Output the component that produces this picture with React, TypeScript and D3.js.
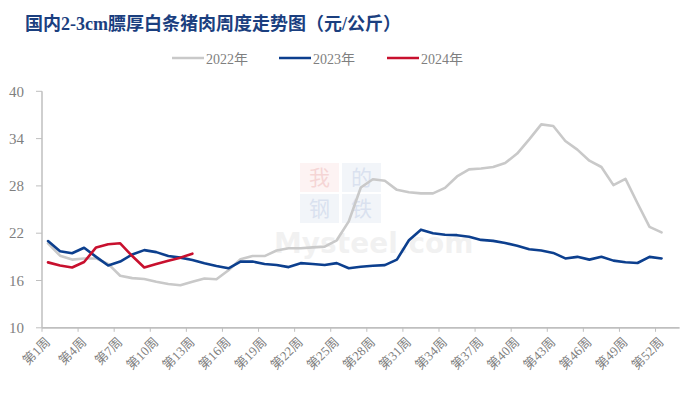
import React from 'react';
import * as d3 from 'd3';

const weeks = [
  '第1周','第2周','第3周','第4周','第5周','第6周','第7周','第8周','第9周','第10周',
  '第11周','第12周','第13周','第14周','第15周','第16周','第17周','第18周','第19周','第20周',
  '第21周','第22周','第23周','第24周','第25周','第26周','第27周','第28周','第29周','第30周',
  '第31周','第32周','第33周','第34周','第35周','第36周','第37周','第38周','第39周','第40周',
  '第41周','第42周','第43周','第44周','第45周','第46周','第47周','第48周','第49周','第50周',
  '第51周','第52周','第53周',
];

const series2022 = [
  20.7, 19.15, 18.65, 18.8, 18.8, 18.1, 16.6, 16.3, 16.2, 15.85,
  15.55, 15.4, 15.85, 16.25, 16.15, 17.3, 18.7, 19.1, 19.1, 19.8,
  20.1, 20.1, 20.2, 20.3, 21.1, 23.5, 27.8, 28.85, 28.65, 27.5,
  27.2, 27.05, 27.05, 27.75, 29.2, 30.1, 30.2, 30.4, 30.9, 32.1,
  33.9, 35.8, 35.6, 33.7, 32.6, 31.2, 30.4, 28.1, 28.9, 25.8,
  22.8, 22.1,
];

const series2023 = [
  21.0, 19.7, 19.45, 20.15, 19.0, 17.9, 18.4, 19.3, 19.85, 19.6,
  19.1, 18.9, 18.6, 18.2, 17.85, 17.55, 18.4, 18.4, 18.1, 17.97,
  17.7, 18.2, 18.1, 17.97, 18.2, 17.55, 17.75, 17.87, 17.95, 18.65,
  21.1, 22.45, 22.0, 21.8, 21.75, 21.55, 21.15, 21.03, 20.75, 20.4,
  19.96, 19.8, 19.5, 18.8, 19.0, 18.65, 19.0, 18.52, 18.32, 18.22,
  19.0, 18.8,
];

const series2024 = [18.3, 17.9, 17.65, 18.35, 20.2, 20.6, 20.72, 19.1, 17.65, 18.1, 18.5, 18.9, 19.4];

const yTicks = [10, 16, 22, 28, 34, 40];
const legendNames = ['2022年', '2023年', '2024年'];
const colors = ['#C9C9C9', '#0C3F8E', '#C8102E'];
const title = '国内2-3cm膘厚白条猪肉周度走势图（元/公斤）';
const watermarkChars = ['我', '的', '钢', '铁'];

const W = 700;
const H = 395;
const serif = "'Liberation Serif', 'Times New Roman', 'Noto Sans CJK SC', serif";

export default function App() {
  const x = d3.scaleBand<string>().domain(weeks).range([42, 679.6]).paddingInner(0).paddingOuter(0);
  const y = d3.scaleLinear().domain([10, 40]).range([327.8, 91.3]);
  const bw = x.bandwidth();
  const cx = (i: number) => (x(weeks[i]) as number) + bw / 2;
  const line = d3
    .line<number>()
    .x((_, i) => cx(i))
    .y((d) => y(d));

  const all = [series2022, series2023, series2024];
  const labelIdx = weeks.map((_, i) => i).filter((i) => i % 3 === 0 && i < 52);

  const legendX = [172, 279, 387];
  const wmPos = [
    { x: 300, y: 163, c: '#E05050', t: '#D04040' },
    { x: 342, y: 163, c: '#4A6FB0', t: '#6080C0' },
    { x: 300, y: 194, c: '#4A6FB0', t: '#6080C0' },
    { x: 342, y: 194, c: '#4A6FB0', t: '#6080C0' },
  ];

  return (
    <svg
      width={W}
      height={H}
      style={{ position: 'absolute', left: 0, top: 0, background: '#fff' }}
      xmlns="http://www.w3.org/2000/svg"
    >
      <rect x={0} y={0} width={W} height={H} fill="#fff" />
      {/* title */}
      <text x={25} y={30} fontFamily={serif} fontWeight="bold" fontSize={18} fill="#1B3F7F">
        {title}
      </text>

      {/* legend */}
      {legendNames.map((n, i) => (
        <g key={n}>
          <line
            x1={legendX[i]}
            x2={legendX[i] + 32}
            y1={58}
            y2={58}
            stroke={colors[i]}
            strokeWidth={2.5}
          />
          <text x={legendX[i] + 34} y={63.5} fontFamily={serif} fontSize={14} fill="#7F7F7F">
            {n}
          </text>
        </g>
      ))}

      {/* watermark */}
      {wmPos.map((p, i) => (
        <g key={'wm' + i}>
          <rect x={p.x} y={p.y} width={39} height={29} fill={p.c} opacity={0.07} />
          <text
            x={p.x + 19.5}
            y={p.y + 22}
            textAnchor="middle"
            fontFamily="'Noto Sans CJK SC', sans-serif"
            fontSize={21}
            fill={p.t}
            opacity={0.16}
          >
            {watermarkChars[i]}
          </text>
        </g>
      ))}
      <text
        x={274}
        y={253}
        fontFamily="'DejaVu Sans', sans-serif"
        fontWeight="bold"
        fontSize={28}
        fill="#000"
        opacity={0.05}
      >
        Mysteel.com
      </text>

      {/* y axis */}
      <line x1={42} x2={42} y1={y(40)} y2={y(10)} stroke="#BFBFBF" strokeWidth={1.5} />
      {yTicks.map((t) => (
        <g key={t}>
          <line x1={36} x2={42} y1={y(t)} y2={y(t)} stroke="#BFBFBF" strokeWidth={1} />
          <text
            x={24}
            y={y(t)}
            dy="0.35em"
            textAnchor="end"
            fontFamily={serif}
            fontSize={15}
            fill="#7F7F7F"
          >
            {t}
          </text>
        </g>
      ))}

      {/* x axis */}
      <line x1={42} x2={679.6} y1={y(10)} y2={y(10)} stroke="#BFBFBF" strokeWidth={1.8} />
      {labelIdx.map((i) => (
        <line
          key={'t' + i}
          x1={x(weeks[i]) as number}
          x2={x(weeks[i]) as number}
          y1={y(10)}
          y2={y(10) + 4}
          stroke="#BFBFBF"
          strokeWidth={1}
        />
      ))}
      {labelIdx.map((i) => (
        <text
          key={'l' + i}
          transform={`translate(${cx(i) + 3},${y(10) + 15}) rotate(-45)`}
          textAnchor="end"
          fontFamily={serif}
          fontSize={13}
          fill="#7F7F7F"
        >
          {weeks[i]}
        </text>
      ))}

      {/* series */}
      {all.map((s, i) => (
        <path
          key={legendNames[i]}
          d={line(s) as string}
          fill="none"
          stroke={colors[i]}
          strokeWidth={2.6}
          strokeLinejoin="round"
          strokeLinecap="round"
        />
      ))}
    </svg>
  );
}
